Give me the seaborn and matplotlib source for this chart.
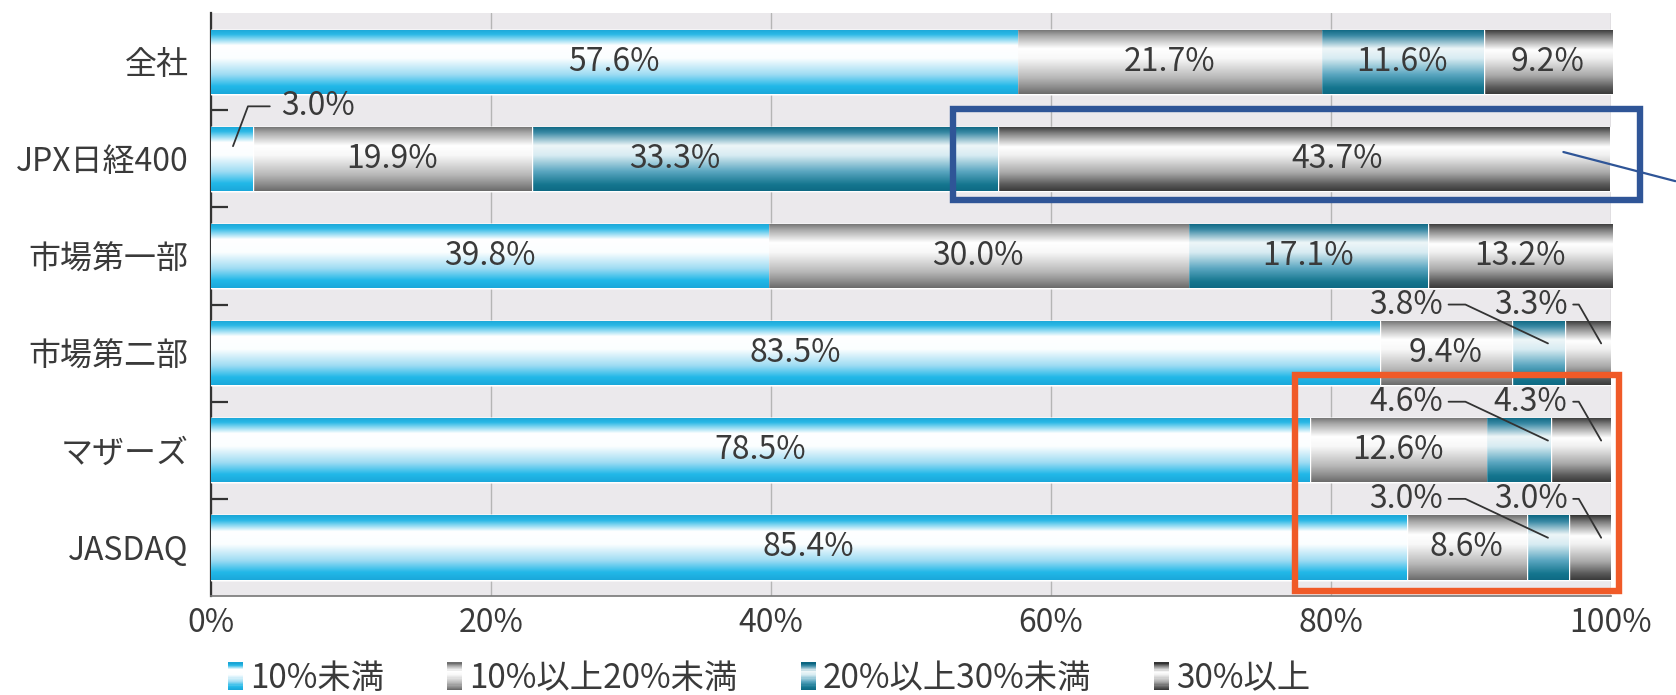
import numpy as np
import pandas as pd
import matplotlib.pyplot as plt
import seaborn as sns
from matplotlib.colors import LinearSegmentedColormap
from matplotlib.legend_handler import HandlerBase
from matplotlib.patches import Rectangle, Patch

# data
categories = ['全社', 'JPX日経400', '市場第一部', '市場第二部', 'マザーズ', 'JASDAQ']
series_names = ['10%未満', '10%以上20%未満', '20%以上30%未満', '30%以上']
lt10 = [57.6, 3.0, 39.8, 83.5, 78.5, 85.4]
b10_20 = [21.7, 19.9, 30.0, 9.4, 12.6, 8.6]
b20_30 = [11.6, 33.3, 17.1, 3.8, 4.6, 3.0]
ge30 = [9.2, 43.7, 13.2, 3.3, 4.3, 3.0]
xticks = [0, 20, 40, 60, 80, 100]

sns.set_theme(style='white')
plt.rcParams['font.family'] = ['Noto Sans CJK JP', 'DejaVu Sans']
text_col = '#3a3a3a'
fs = 23

df = pd.DataFrame({'category': categories, series_names[0]: lt10, series_names[1]: b10_20,
                   series_names[2]: b20_30, series_names[3]: ge30})
cum = df[series_names].cumsum(axis=1)

# vertical gradients for the "glossy" bars (top -> bottom)
stops = [
    [(0, '#1aa6d6'), (0.08, '#2ab8e6'), (0.25, '#ffffff'), (0.45, '#fbfeff'), (0.7, '#9edcf3'), (0.88, '#22b8e8'), (1, '#1aa8da')],
    [(0, '#6e6e6e'), (0.1, '#a8a8a8'), (0.3, '#ffffff'), (0.45, '#f8f8f8'), (0.75, '#b8b8b8'), (0.92, '#858585'), (1, '#6a6a6a')],
    [(0, '#0b6580'), (0.1, '#3a8aa5'), (0.3, '#eef6f8'), (0.45, '#d8ecf2'), (0.7, '#5aa6c0'), (0.9, '#15768f'), (1, '#0e6a84')],
    [(0, '#333333'), (0.1, '#7a7a7a'), (0.32, '#ffffff'), (0.45, '#f0f0f0'), (0.72, '#a8a8a8'), (0.9, '#5a5a5a'), (1, '#3a3a3a')],
]
cmaps = [LinearSegmentedColormap.from_list('g%d' % i, s) for i, s in enumerate(stops)]
flat = ['#22b8e8', '#b8b8b8', '#1a7a9a', '#555555']
grad = np.linspace(0, 1, 256).reshape(-1, 1)

fig = plt.figure(figsize=(16.76, 6.95), dpi=100)
ax = fig.add_axes([0.1259, 0.1424, 0.8353, 0.8388])
ax.set_facecolor('#ebe9ec')

# stacked bars: draw cumulative totals, longest first
for k in reversed(range(4)):
    z = 3 + (3 - k)
    n0 = len(ax.patches)
    sns.barplot(x=cum[series_names[k]], y=df['category'], orient='h', color=flat[k],
                width=0.66, saturation=1, errorbar=None, zorder=z, ax=ax)
    for p in ax.patches[n0:]:
        x0, y0, w, h = p.get_x(), p.get_y(), p.get_width(), p.get_height()
        im = ax.imshow(grad, cmap=cmaps[k], extent=(x0, x0 + w, y0 + h, y0), aspect='auto',
                       interpolation='bilinear', zorder=z + 0.5)
        im.set_clip_path(p)

ax.set_xlim(0, 100)
ax.set_ylim(5.5, -0.5)
ax.set_xlabel('')
ax.set_ylabel('')

# segment labels
label_shift = {(1, 2): -6.4, (1, 3): 2.4}
for i in range(len(categories)):
    for k in range(4):
        val = df.loc[i, series_names[k]]
        if val < 5:
            continue
        xc = cum.loc[i, series_names[k]] - val / 2 + label_shift.get((i, k), 0)
        ax.text(xc, i, f'{val:.1f}%', ha='center', va='center', fontsize=fs, color=text_col, zorder=10)

# small segments with leader lines
lc = '#333333'
ax.plot([1.57, 2.64, 4.2], [0.87, 0.46, 0.46], color=lc, lw=1.3, zorder=10)
ax.text(5.0, 0.46, f'{lt10[1]:.1f}%', ha='left', va='center', fontsize=fs, color=text_col, zorder=10)
lead_text_x = [88.0, 96.9]
lead_end_x = [95.5, 99.3]
for i in range(3, 6):
    for j, k in enumerate([2, 3]):
        val = df.loc[i, series_names[k]]
        yl = i - 0.5
        ax.text(lead_text_x[j], yl, f'{val:.1f}%', ha='right', va='center', fontsize=fs,
                color=text_col, zorder=10)
        ax.plot([lead_text_x[j] + 0.4, lead_text_x[j] + 1.6 if j == 0 else lead_text_x[j] + 0.8,
                 lead_end_x[j]], [yl, yl, i - 0.1], color=lc, lw=1.3, zorder=10, clip_on=False)

# highlight boxes
ax.add_patch(Rectangle((53.0, 0.49), 49.1, 0.93, fill=False, edgecolor='#2f5597', lw=4.6,
                       clip_on=False, zorder=12))
ax.plot([96.6, 104.6], [0.93, 1.23], color='#2f5597', lw=1.6, clip_on=False, zorder=12)
ax.add_patch(Rectangle((77.4, 3.23), 23.2, 2.22, fill=False, edgecolor='#f05a28', lw=4.6,
                       clip_on=False, zorder=12))

# axes styling
for s in ['top', 'right']:
    ax.spines[s].set_visible(False)
ax.spines['left'].set_color('#333333')
ax.spines['left'].set_linewidth(1.6)
ax.spines['bottom'].set_color('#777777')
ax.spines['bottom'].set_linewidth(1.2)
ax.set_xticks(xticks)
ax.set_xticklabels([f'{v}%' for v in xticks], fontsize=fs, color=text_col)
ax.set_yticks(range(len(categories)))
ax.set_yticklabels(categories, fontsize=fs, color=text_col)
ax.set_yticks(np.arange(0.5, len(categories) - 1, 1), minor=True)
ax.tick_params(axis='x', length=0, pad=8)
ax.tick_params(axis='y', which='major', length=0, pad=16)
ax.tick_params(axis='y', which='minor', direction='in', length=12, width=1.6, color='#333333', left=True)
ax.xaxis.grid(True, color='#b5b5b5', lw=1)
ax.set_axisbelow(True)


class GradientHandler(HandlerBase):
    def create_artists(self, legend, orig_handle, xdescent, ydescent, width, height, fontsize, trans):
        n = 24
        arts = []
        for i in range(n):
            arts.append(Rectangle((-xdescent, -ydescent + height * (n - 1 - i) / n), width, height / n,
                                  facecolor=orig_handle.cmap(i / (n - 1)), edgecolor='none', transform=trans))
        return arts


handles = []
for k in range(4):
    h = Patch(label=series_names[k])
    h.cmap = cmaps[k]
    handles.append(h)
fig.legend(handles=handles, loc='center', bbox_to_anchor=(0.459, 0.024), ncol=4, frameon=False,
           fontsize=24, handlelength=0.45, handleheight=0.9, handletextpad=0.2, columnspacing=1.9,
           handler_map={Patch: GradientHandler()}, labelcolor=text_col)

fig.savefig('out.png', dpi=100)
